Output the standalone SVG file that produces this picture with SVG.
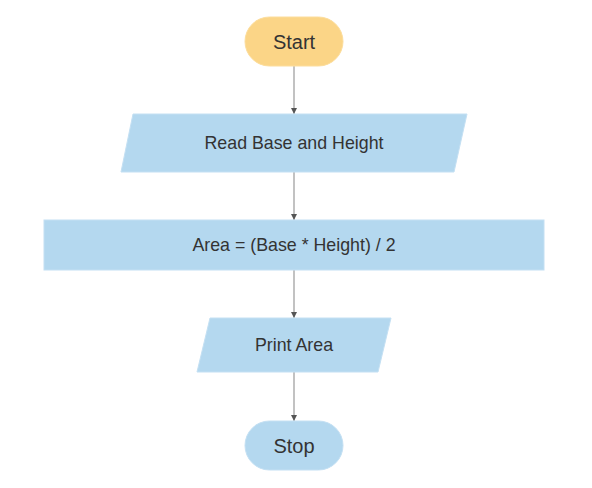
<svg xmlns="http://www.w3.org/2000/svg" width="592" height="488" viewBox="0 0 592 488">
<style>
.blue{fill:#b4d8ef;stroke:#c4e0f3;stroke-width:1}
.orange{fill:#fbd587;stroke:#fcdd9c;stroke-width:1}
.t{font-family:"Liberation Sans",Arial,sans-serif;fill:#333;text-anchor:middle;dominant-baseline:central}
.s{font-size:17.8px}
.l{font-size:20px}
.c{stroke:#999;stroke-width:1.2;fill:none;marker-end:url(#ah)}
</style>
<defs>
<marker id="ah" markerWidth="6" markerHeight="6" refX="6" refY="3" orient="auto" markerUnits="userSpaceOnUse">
<path d="M0,0 L6,3 L0,6 Z" fill="#555"/>
</marker>
</defs>
<rect width="592" height="488" fill="#fff"/>
<g id="connectors">
<line class="c" x1="294" y1="66" x2="294" y2="114"/>
<line class="c" x1="294" y1="172" x2="294" y2="220"/>
<line class="c" x1="294" y1="270" x2="294" y2="318"/>
<line class="c" x1="294" y1="372" x2="294" y2="421"/>
</g>
<g id="start">
<rect class="orange" x="245" y="17" width="98" height="49" rx="24.5"/>
<text class="t l" x="294" y="41.5">Start</text>
</g>
<g id="read">
<polygon class="blue" points="133,114 467,114 454,172 121,172"/>
<text class="t s" x="294" y="143">Read Base and Height</text>
</g>
<g id="calc">
<rect class="blue" x="44" y="220" width="500" height="50"/>
<text class="t s" x="294" y="245">Area = (Base * Height) / 2</text>
</g>
<g id="print">
<polygon class="blue" points="210,318 391,318 378,372 197,372"/>
<text class="t s" x="294" y="345">Print Area</text>
</g>
<g id="stop">
<rect class="blue" x="245" y="421" width="98" height="49" rx="24.5"/>
<text class="t l" x="294" y="445.5">Stop</text>
</g>
</svg>
